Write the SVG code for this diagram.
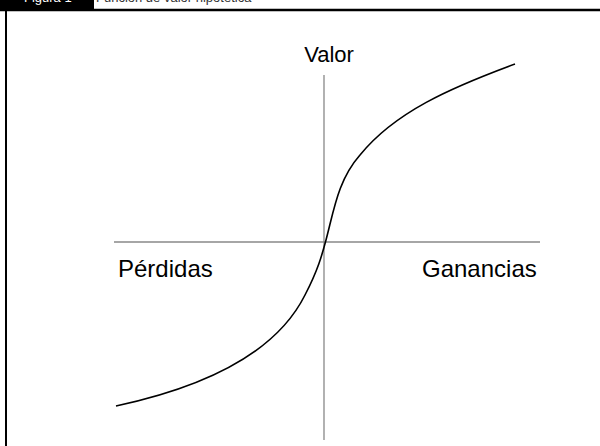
<svg xmlns="http://www.w3.org/2000/svg" width="600" height="446" viewBox="0 0 600 446">
<style>
.lbl{font-family:"Liberation Sans",Arial,sans-serif;font-size:24px;fill:#000}
.hdr{font-family:"Liberation Sans",Arial,sans-serif;font-size:13px}
.axis{stroke:#888;stroke-width:1.3;fill:none}
.curve{stroke:#000;stroke-width:1.6;fill:none}
</style>
<rect width="600" height="446" fill="#fff"/>
<g id="header">
<rect x="0" y="0" width="94" height="9" fill="#000"/>
<text class="hdr" x="24" y="2" fill="#fff">Figura 1</text>
<text class="hdr" x="96" y="2" fill="#333">Función de valor hipotética</text>
<line x1="0" y1="10" x2="600" y2="10" stroke="#000" stroke-width="2.5"/>
<line x1="6" y1="10" x2="6" y2="446" stroke="#000" stroke-width="2"/>
</g>
<g id="connectors">
<line class="axis" x1="324" y1="75" x2="324" y2="440"/>
<line class="axis" x1="114" y1="242" x2="540" y2="242"/>
<path class="curve" d="M116,406 C200,388 275,355 305,295 C318,270 322,255 326,240 C334,210 338,180 360,155 C395,112 450,88 515,64"/>
</g>
<g id="valor"><text class="lbl" x="329" y="62" text-anchor="middle" style="font-size:22px">Valor</text></g>
<g id="perdidas"><text class="lbl" x="118" y="277">Pérdidas</text></g>
<g id="ganancias"><text class="lbl" x="422" y="277">Ganancias</text></g>
</svg>
